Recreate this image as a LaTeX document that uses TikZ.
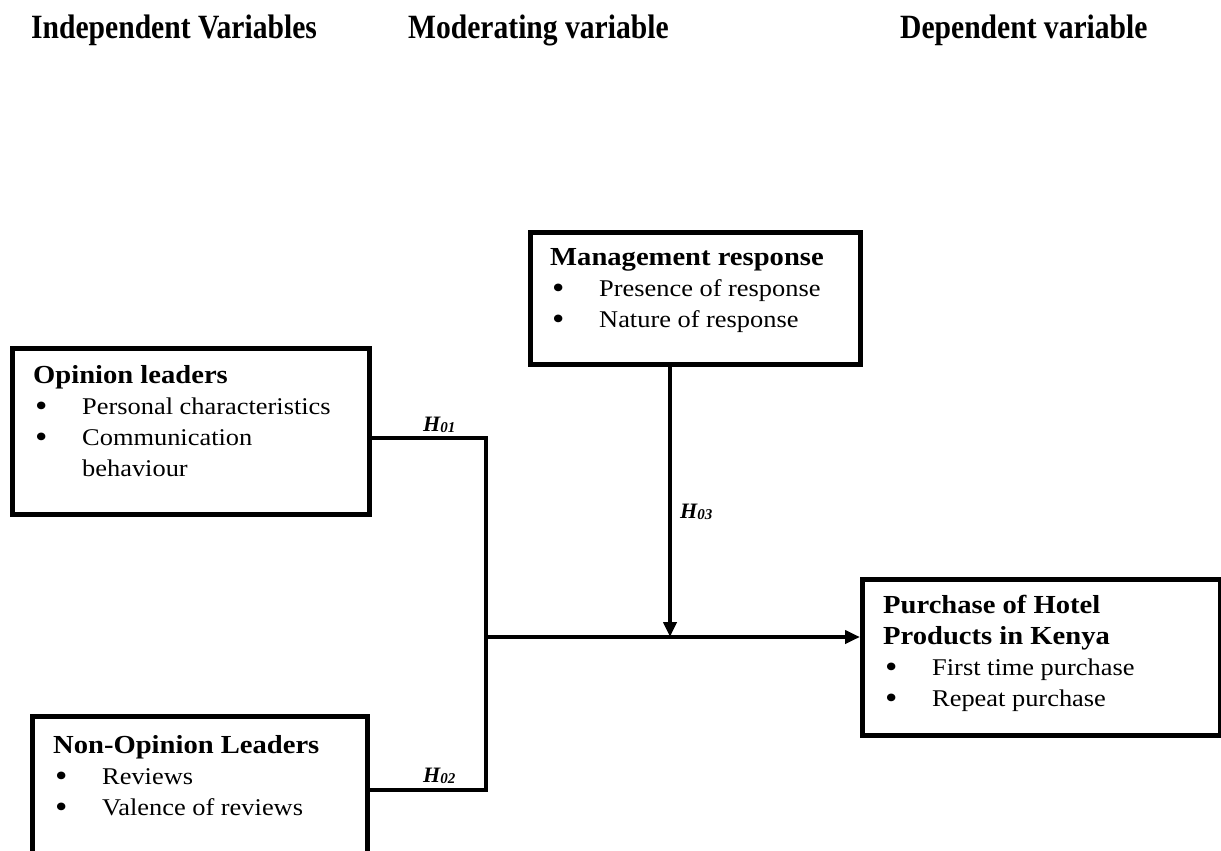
\documentclass[tikz,border=0pt]{standalone}
\usepackage{fontspec}
\setmainfont{Liberation Serif}
\newfontfamily\boxfont[FakeStretch=1.1]{Liberation Serif}
\newfontfamily\hdrfont[FakeStretch=0.87]{Liberation Serif}
\usetikzlibrary{arrows.meta,calc}
\newcommand\myitem{\makebox[49pt][l]{\hspace{2pt}\raisebox{-2pt}{\fontsize{32}{31}\selectfont\textbullet}}}
\newcommand\mysub[1]{\raisebox{-1.5pt}{\fontsize{15}{15}\selectfont #1}}
\begin{document}
\begin{tikzpicture}[x=1pt,y=-1pt,
  vbox/.style={draw, line width=4.5pt, inner sep=0pt, anchor=north west},
  btext/.style={anchor=base west, align=left, inner sep=0pt, font=\boxfont\fontsize{24}{31}\selectfont},
  hdr/.style={anchor=base west, inner sep=0pt, font=\hdrfont\bfseries\fontsize{34}{40}\selectfont},
  hyp/.style={anchor=base west, inner sep=0pt, font=\bfseries\itshape\fontsize{22}{24}\selectfont},
  conn/.style={line width=4pt},
  arr/.style={line width=4pt, -{Triangle[length=15pt,width=13pt]}}
]
\useasboundingbox (0,0) rectangle (1221,851);
\clip (0,0) rectangle (1221,851);

% headers
\node[hdr] (h1) at (31,39) {Independent Variables};
\node[hdr] (h2) at (408,39) {Moderating variable};
\node[hdr] (h3) at (900,39) {Dependent variable};

% boxes
\node[vbox, minimum width=357pt, minimum height=166pt] (ol) at (10,346) {};
\node[vbox, minimum width=335pt, minimum height=170pt] (nol) at (30,714) {};
\node[vbox, minimum width=330pt, minimum height=132pt] (mr) at (528,230) {};
\node[vbox, minimum width=358pt, minimum height=156pt] (pur) at (860,577) {};

% box texts (anchor at the baseline of the last line)
\node[btext] (olt) at ($(ol.north west)+(23,37+93)$) {{\bfseries\fontsize{26}{31}\selectfont Opinion leaders}\\
\myitem Personal characteristics\\
\myitem Communication\\
\hspace*{49pt}behaviour};
\node[btext] (nolt) at ($(nol.north west)+(23,39+62)$) {{\bfseries\fontsize{26}{31}\selectfont Non-Opinion Leaders}\\
\myitem Reviews\\
\myitem Valence of reviews};
\node[btext] (mrt) at ($(mr.north west)+(22,35+62)$) {{\bfseries\fontsize{26}{31}\selectfont Management response}\\
\myitem Presence of response\\
\myitem Nature of response};
\node[btext] (purt) at ($(pur.north west)+(23,36+93)$) {{\bfseries\fontsize{26}{31}\selectfont Purchase of Hotel}\\
{\bfseries\fontsize{26}{31}\selectfont Products in Kenya}\\
\myitem First time purchase\\
\myitem Repeat purchase};

% connectors
\coordinate (j1) at (486,438);
\coordinate (j2) at (486,790);
\coordinate (jm) at (486,637);
\coordinate (mid) at (670,637);
\draw[conn] (ol.east |- j1) -- (j1) -- (j2) -- (nol.east |- j2);
\draw[arr] (jm) -- (pur.west |- jm);
\draw[arr] (mr.south -| mid) -- (mid);

% hypothesis labels
\node[hyp] (H1) at (423,431) {H\mysub{01}};
\node[hyp] (H2) at (423,782) {H\mysub{02}};
\node[hyp] (H3) at (680,518) {H\mysub{03}};
\end{tikzpicture}
\end{document}
